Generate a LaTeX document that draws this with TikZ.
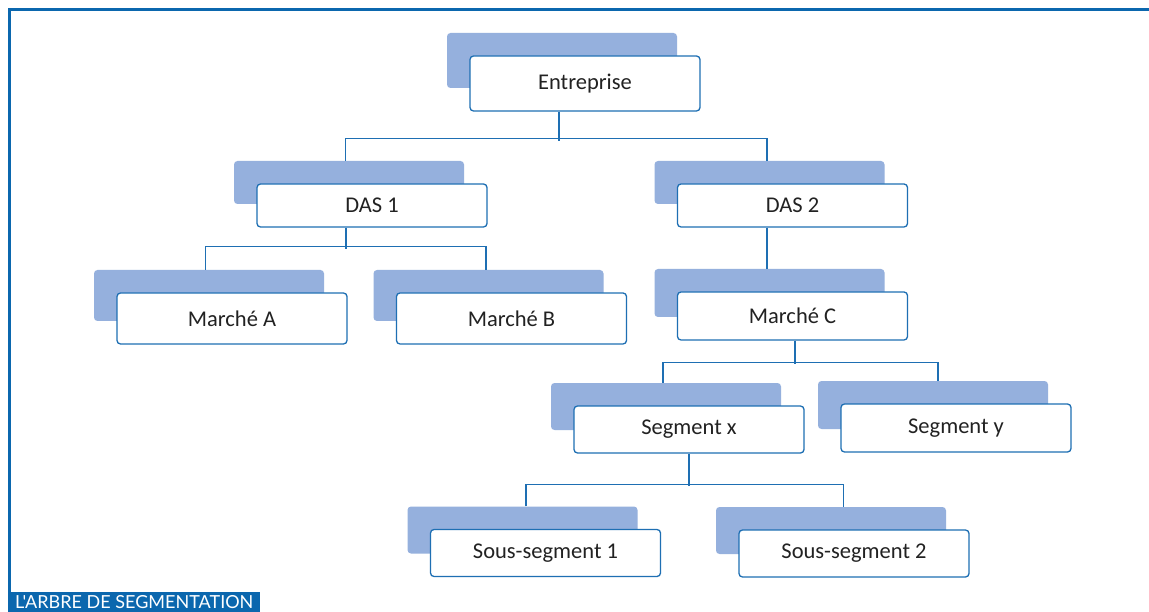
\documentclass[tikz,border=0pt]{standalone}
\usepackage{fontspec}
\setmainfont{Carlito}
\newfontfamily\labelfont{Lato}
\definecolor{frameblue}{HTML}{0B67AE}
\definecolor{edgeblue}{HTML}{1E6FB3}
\definecolor{shadeblue}{HTML}{95B0DD}
\definecolor{txtgray}{HTML}{222222}
\tikzset{
  shadebox/.style={fill=shadeblue, rounded corners=3.5pt, minimum width=230pt, inner sep=0pt},
  whitebox/.style={draw=edgeblue, line width=1.3pt, fill=white, rounded corners=3.5pt, minimum width=230pt, inner sep=0pt, text=txtgray, font=\fontsize{22.5}{24}\selectfont},
  link/.style={draw=edgeblue, line width=1.1pt},
  framebar/.style={draw=frameblue, line width=3pt},
}
\newcommand\segbox[5]{%
  \node[shadebox, minimum height=#4pt] (#1s) at (#2-23,#3-23) {};
  \node[whitebox, minimum height=#4pt] (#1) at (#2,#3) {#5};}
\begin{document}
\begin{tikzpicture}[x=1pt,y=-1pt]
\useasboundingbox (0,0) rectangle (1149,612);
\fill[white] (0,0) rectangle (1149,612);
% frame
\coordinate (ftop) at (1149,9.5);
\coordinate (fbot) at (9.5,592);
\draw[framebar] (fbot) |- (ftop);
\node[fill=frameblue, text=white, anchor=north west, minimum width=252pt, minimum height=20pt, inner sep=0pt, font=\labelfont\fontsize{18}{18}\selectfont] (lbl) at (8,592) {L'ARBRE DE SEGMENTATION};
% boxes
\segbox{ent}{585}{83.5}{55}{Entreprise}
\segbox{dasa}{372}{205.5}{43}{DAS 1}
\segbox{dasb}{792.5}{205.5}{43}{DAS 2}
\segbox{ma}{232}{318.5}{51}{Marché A}
\segbox{mb}{511.5}{318.5}{51}{Marché B}
\segbox{mc}{792.5}{316}{48}{Marché C}
\segbox{sx}{689}{429.5}{47}{Segment x}
\segbox{sy}{956}{428}{48}{Segment y}
\segbox{ssa}{545.5}{553}{47}{Sous-segment 1}
\segbox{ssb}{854}{553.5}{47}{Sous-segment 2}
% connectors
\draw[link] ([xshift=-26]ent.south) -- ++(0,29);
\draw[link] ([xshift=-3.5]dasas.north) -- ++(0,-22) -| ([xshift=-2.5]dasbs.north);
\draw[link] ([xshift=-26]dasa.south) -- ++(0,21);
\draw[link] ([xshift=-3.5]mas.north) -- ++(0,-23) -| ([xshift=-2.5]mbs.north);
\draw[link] ([xshift=-25.5]dasb.south) -- ([xshift=-2.5]mcs.north);
\draw[link] ([xshift=2.5]mc.south) -- ++(0,23);
\draw[link] ([xshift=-3]sxs.north) -- ++(0,-20) -| ([xshift=5]sys.north);
\draw[link] (sx.south) -- ++(0,32);
\draw[link] ([xshift=3.5]ssas.north) -- ++(0,-22) -| ([xshift=12.5]ssbs.north);
\end{tikzpicture}
\end{document}
